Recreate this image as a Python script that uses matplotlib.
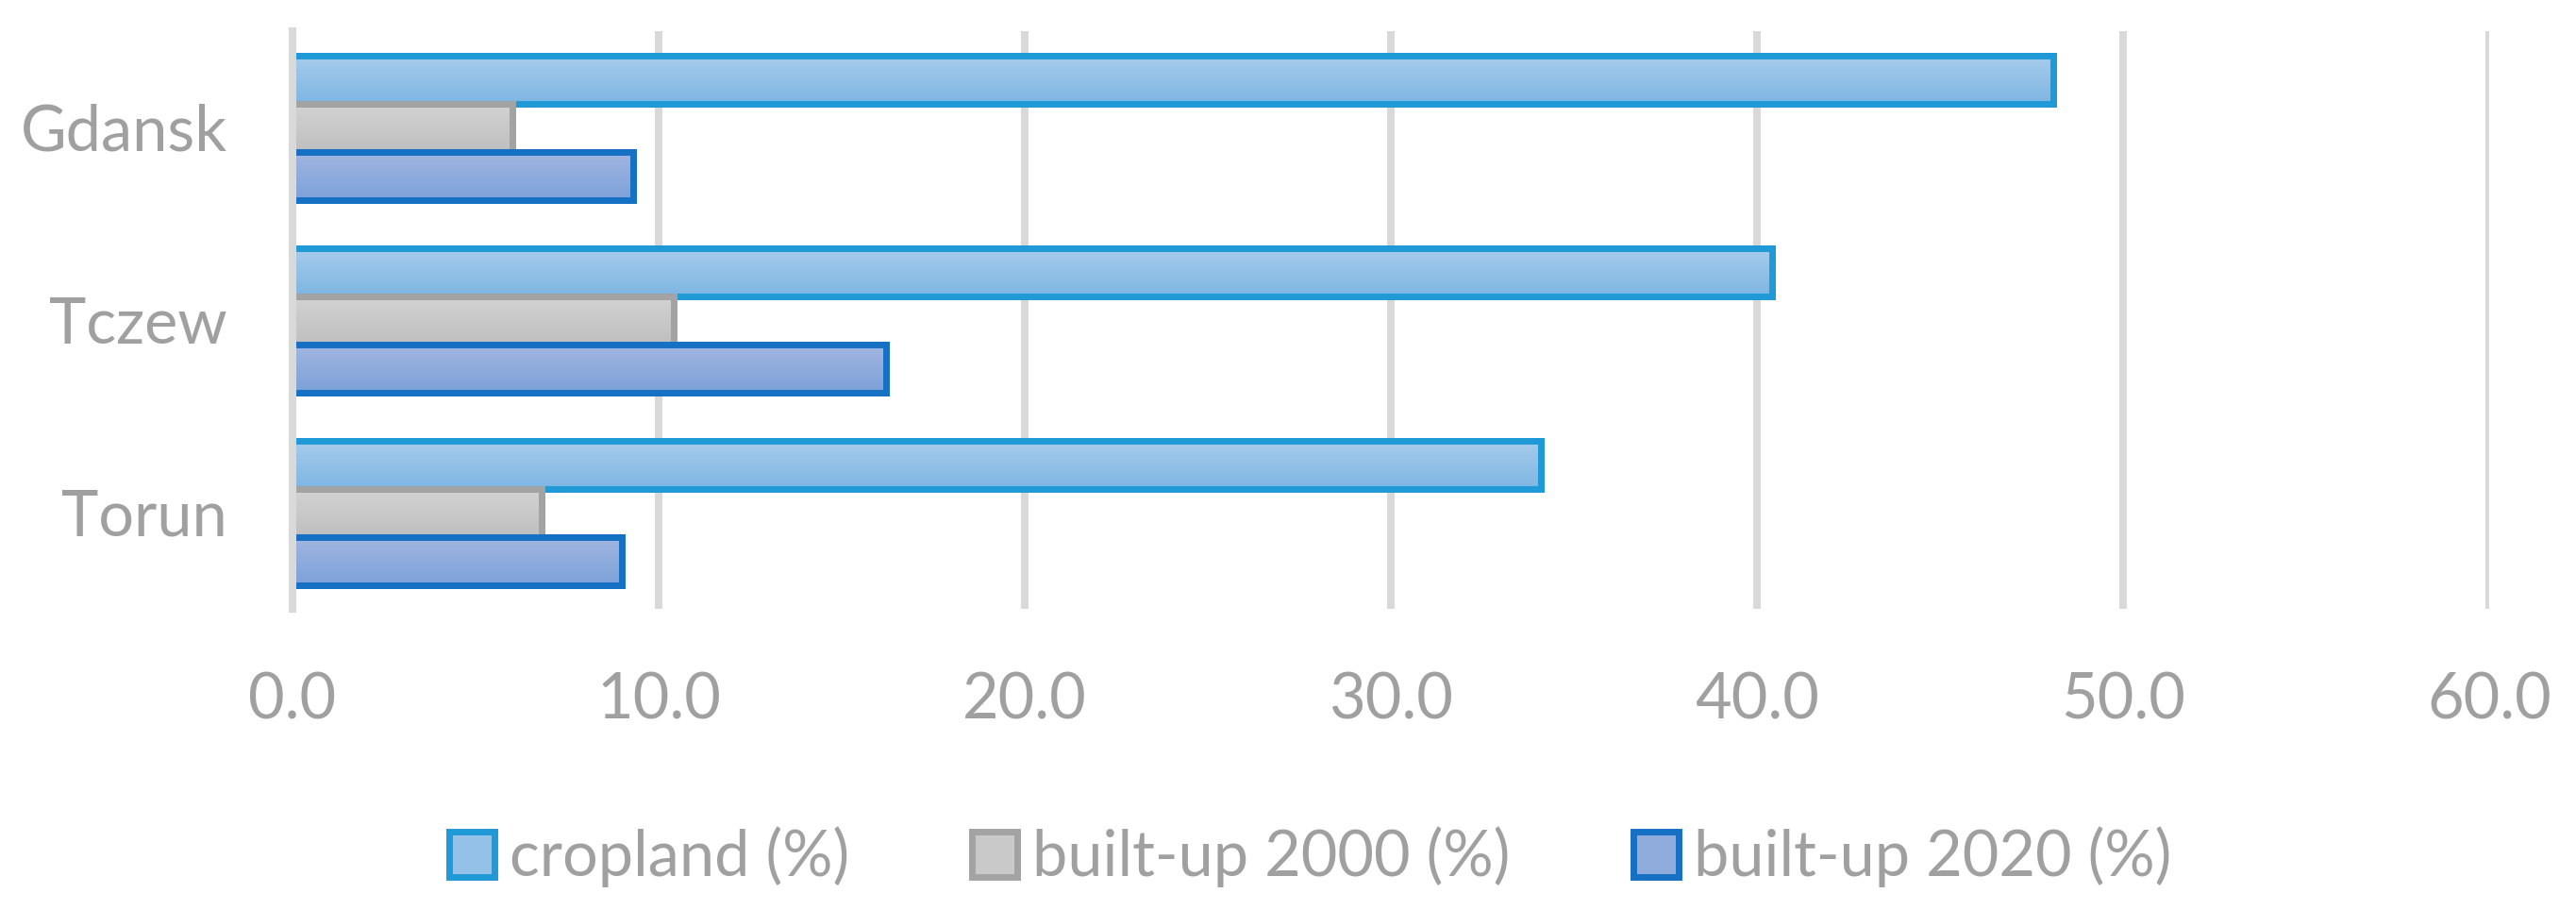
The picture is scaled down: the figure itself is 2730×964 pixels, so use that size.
import numpy as np
import matplotlib.pyplot as plt
from matplotlib.colors import LinearSegmentedColormap, to_rgb

cities = ['Gdansk', 'Tczew', 'Torun']
cropland = [48.1, 40.4, 34.1]
built_2000 = [6.0, 10.4, 6.8]
built_2020 = [9.3, 16.2, 9.0]
ticks = [0, 10, 20, 30, 40, 50, 60]

series = [
    ('cropland (%)', cropland, '#1F9AD6', '#A7CCEC', '#7EB6E2'),
    ('built-up 2000 (%)', built_2000, '#A3A3A3', '#D3D3D3', '#BFBFBF'),
    ('built-up 2020 (%)', built_2020, '#1670C4', '#A2B6E1', '#7DA1D9'),
]

plt.rcParams['font.family'] = ['Lato', 'DejaVu Sans']
txt = '#A0A0A0'
grid = '#D9D9D9'

fig = plt.figure(figsize=(27.3, 9.64), dpi=100)
ax = fig.add_axes([310/2730, 1-645/964, (2638-310)/2730, (645-33)/964])

y = np.arange(len(cities))
h = 0.25
for i, (name, vals, edge, top, bot) in enumerate(series):
    pos = y + (i - 1) * h
    mid = (np.array(to_rgb(top)) + np.array(to_rgb(bot))) / 2
    bars = ax.barh(pos, vals, height=h, color=mid, edgecolor=edge,
                   linewidth=5, label=name, zorder=2)
    # vertical gradient fill like the Excel bars
    cmap = LinearSegmentedColormap.from_list(name, [top, bot])
    for b in bars:
        x0, y0, w, hh = b.get_x(), b.get_y(), b.get_width(), b.get_height()
        im = ax.imshow(np.linspace(0, 1, 64).reshape(-1, 1), cmap=cmap,
                       extent=(x0, x0 + w, y0 + hh, y0), aspect='auto',
                       origin='upper', zorder=2.2)
        im.set_clip_path(b)
    ax.barh(pos, vals, height=h, fill=False, edgecolor=edge, linewidth=5,
            zorder=2.4 + i * 0.1)

ax.set_xlim(0, 60)
ax.set_ylim(2.5, -0.5)
ax.set_xticks(ticks)
ax.set_xticklabels([f'{t:.1f}' for t in ticks])
ax.set_yticks(y)
ax.set_yticklabels(cities)
ax.tick_params(axis='both', length=0, labelsize=48, labelcolor=txt)
ax.tick_params(axis='x', pad=48)
ax.tick_params(axis='y', pad=50)

ax.grid(axis='x', color=grid, linewidth=5.8, zorder=0)
ax.set_axisbelow(True)
for s in ['top', 'right', 'bottom']:
    ax.spines[s].set_visible(False)
ax.spines['left'].set_color(grid)
ax.spines['left'].set_linewidth(5.8)
ax.spines['left'].set_zorder(5)

fig.legend(loc='center left', bbox_to_anchor=(476/2730, 1-908/964), ncol=3,
           frameon=False, fontsize=48, labelcolor=txt, borderpad=0,
           borderaxespad=0, handlelength=0.72, handleheight=0.72,
           handletextpad=0.24, columnspacing=1.95)

fig.savefig('out.png', dpi=100)
